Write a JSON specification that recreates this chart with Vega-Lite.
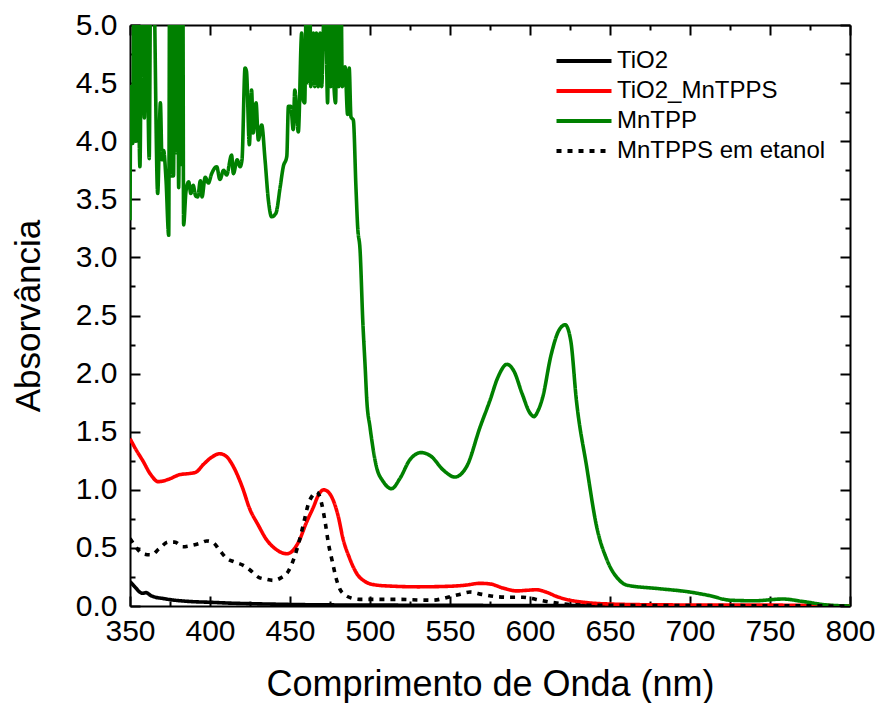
{
  "$schema": "https://vega.github.io/schema/vega-lite/v6.json",
  "autosize": "none",
  "width": 720,
  "height": 581,
  "padding": {"left": 130, "top": 25, "right": 27, "bottom": 97},
  "background": "white",
  "config": {"view": {"stroke": null}, "font": "Liberation Sans"},
  "datasets": {
    "spectra": [
      {"serie": "TiO2", "nm": 350, "abs": 0.21}, {"serie": "TiO2", "nm": 352, "abs": 0.18}, {"serie": "TiO2", "nm": 354, "abs": 0.15}, {"serie": "TiO2", "nm": 356, "abs": 0.12}, {"serie": "TiO2", "nm": 358, "abs": 0.11}, {"serie": "TiO2", "nm": 360, "abs": 0.115}, {"serie": "TiO2", "nm": 363, "abs": 0.09}, {"serie": "TiO2", "nm": 366, "abs": 0.075}, {"serie": "TiO2", "nm": 370, "abs": 0.066}, {"serie": "TiO2", "nm": 375, "abs": 0.055}, {"serie": "TiO2", "nm": 383, "abs": 0.043}, {"serie": "TiO2", "nm": 390, "abs": 0.037}, {"serie": "TiO2", "nm": 400, "abs": 0.032}, {"serie": "TiO2", "nm": 412, "abs": 0.025}, {"serie": "TiO2", "nm": 425, "abs": 0.02}, {"serie": "TiO2", "nm": 440, "abs": 0.016}, {"serie": "TiO2", "nm": 456, "abs": 0.012}, {"serie": "TiO2", "nm": 480, "abs": 0.009}, {"serie": "TiO2", "nm": 520, "abs": 0.007}, {"serie": "TiO2", "nm": 600, "abs": 0.004}, {"serie": "TiO2", "nm": 700, "abs": 0.002}, {"serie": "TiO2", "nm": 800, "abs": 0.0},

      {"serie": "TiO2_MnTPPS", "nm": 350, "abs": 1.44}, {"serie": "TiO2_MnTPPS", "nm": 354, "abs": 1.34}, {"serie": "TiO2_MnTPPS", "nm": 358, "abs": 1.25}, {"serie": "TiO2_MnTPPS", "nm": 363, "abs": 1.13}, {"serie": "TiO2_MnTPPS", "nm": 367.7, "abs": 1.07}, {"serie": "TiO2_MnTPPS", "nm": 374, "abs": 1.09}, {"serie": "TiO2_MnTPPS", "nm": 381, "abs": 1.13}, {"serie": "TiO2_MnTPPS", "nm": 387, "abs": 1.14}, {"serie": "TiO2_MnTPPS", "nm": 391, "abs": 1.15}, {"serie": "TiO2_MnTPPS", "nm": 396, "abs": 1.22}, {"serie": "TiO2_MnTPPS", "nm": 401, "abs": 1.28}, {"serie": "TiO2_MnTPPS", "nm": 406, "abs": 1.31}, {"serie": "TiO2_MnTPPS", "nm": 410, "abs": 1.29}, {"serie": "TiO2_MnTPPS", "nm": 414.6, "abs": 1.2}, {"serie": "TiO2_MnTPPS", "nm": 420, "abs": 1.03}, {"serie": "TiO2_MnTPPS", "nm": 425, "abs": 0.83}, {"serie": "TiO2_MnTPPS", "nm": 430, "abs": 0.7}, {"serie": "TiO2_MnTPPS", "nm": 435.4, "abs": 0.57}, {"serie": "TiO2_MnTPPS", "nm": 441, "abs": 0.49}, {"serie": "TiO2_MnTPPS", "nm": 448, "abs": 0.45}, {"serie": "TiO2_MnTPPS", "nm": 452, "abs": 0.48}, {"serie": "TiO2_MnTPPS", "nm": 456, "abs": 0.57}, {"serie": "TiO2_MnTPPS", "nm": 460, "abs": 0.71}, {"serie": "TiO2_MnTPPS", "nm": 464.6, "abs": 0.85}, {"serie": "TiO2_MnTPPS", "nm": 468, "abs": 0.96}, {"serie": "TiO2_MnTPPS", "nm": 471, "abs": 1.0}, {"serie": "TiO2_MnTPPS", "nm": 474, "abs": 0.98}, {"serie": "TiO2_MnTPPS", "nm": 477, "abs": 0.91}, {"serie": "TiO2_MnTPPS", "nm": 480, "abs": 0.78}, {"serie": "TiO2_MnTPPS", "nm": 483.3, "abs": 0.57}, {"serie": "TiO2_MnTPPS", "nm": 487, "abs": 0.42}, {"serie": "TiO2_MnTPPS", "nm": 491.7, "abs": 0.28}, {"serie": "TiO2_MnTPPS", "nm": 497, "abs": 0.21}, {"serie": "TiO2_MnTPPS", "nm": 504, "abs": 0.18}, {"serie": "TiO2_MnTPPS", "nm": 515, "abs": 0.17}, {"serie": "TiO2_MnTPPS", "nm": 530, "abs": 0.165}, {"serie": "TiO2_MnTPPS", "nm": 550, "abs": 0.17}, {"serie": "TiO2_MnTPPS", "nm": 560, "abs": 0.18}, {"serie": "TiO2_MnTPPS", "nm": 568.75, "abs": 0.195}, {"serie": "TiO2_MnTPPS", "nm": 575, "abs": 0.19}, {"serie": "TiO2_MnTPPS", "nm": 583, "abs": 0.155}, {"serie": "TiO2_MnTPPS", "nm": 591.7, "abs": 0.13}, {"serie": "TiO2_MnTPPS", "nm": 598, "abs": 0.135}, {"serie": "TiO2_MnTPPS", "nm": 604, "abs": 0.14}, {"serie": "TiO2_MnTPPS", "nm": 610, "abs": 0.12}, {"serie": "TiO2_MnTPPS", "nm": 617, "abs": 0.08}, {"serie": "TiO2_MnTPPS", "nm": 625, "abs": 0.05}, {"serie": "TiO2_MnTPPS", "nm": 635, "abs": 0.03}, {"serie": "TiO2_MnTPPS", "nm": 650, "abs": 0.017}, {"serie": "TiO2_MnTPPS", "nm": 680, "abs": 0.01}, {"serie": "TiO2_MnTPPS", "nm": 720, "abs": 0.008}, {"serie": "TiO2_MnTPPS", "nm": 760, "abs": 0.007}, {"serie": "TiO2_MnTPPS", "nm": 800, "abs": 0.0},

      {"serie": "MnTPP", "nm": 350, "abs": 3.32}, {"serie": "MnTPP", "nm": 350.6, "abs": 4.47}, {"serie": "MnTPP", "nm": 351.7, "abs": 3.98}, {"serie": "MnTPP", "nm": 352.5, "abs": 5.6}, {"serie": "MnTPP", "nm": 353.5, "abs": 4.0}, {"serie": "MnTPP", "nm": 354.3, "abs": 5.6}, {"serie": "MnTPP", "nm": 356.2, "abs": 3.78}, {"serie": "MnTPP", "nm": 357.5, "abs": 5.6}, {"serie": "MnTPP", "nm": 359, "abs": 4.2}, {"serie": "MnTPP", "nm": 360, "abs": 5.6}, {"serie": "MnTPP", "nm": 362, "abs": 3.85}, {"serie": "MnTPP", "nm": 363, "abs": 5.6}, {"serie": "MnTPP", "nm": 364.5, "abs": 5.6}, {"serie": "MnTPP", "nm": 367.3, "abs": 3.55}, {"serie": "MnTPP", "nm": 369, "abs": 4.33}, {"serie": "MnTPP", "nm": 370, "abs": 3.84}, {"serie": "MnTPP", "nm": 371, "abs": 3.92}, {"serie": "MnTPP", "nm": 372.5, "abs": 3.67}, {"serie": "MnTPP", "nm": 374.2, "abs": 3.19}, {"serie": "MnTPP", "nm": 374.8, "abs": 5.6}, {"serie": "MnTPP", "nm": 375.6, "abs": 3.7}, {"serie": "MnTPP", "nm": 376.4, "abs": 5.6}, {"serie": "MnTPP", "nm": 377.2, "abs": 3.7}, {"serie": "MnTPP", "nm": 378, "abs": 5.6}, {"serie": "MnTPP", "nm": 379, "abs": 3.9}, {"serie": "MnTPP", "nm": 379.8, "abs": 5.6}, {"serie": "MnTPP", "nm": 380.4, "abs": 3.6}, {"serie": "MnTPP", "nm": 381.5, "abs": 5.6}, {"serie": "MnTPP", "nm": 382.3, "abs": 3.8}, {"serie": "MnTPP", "nm": 383, "abs": 5.6}, {"serie": "MnTPP", "nm": 383.5, "abs": 3.28}, {"serie": "MnTPP", "nm": 385, "abs": 3.57}, {"serie": "MnTPP", "nm": 386.7, "abs": 3.65}, {"serie": "MnTPP", "nm": 388, "abs": 3.55}, {"serie": "MnTPP", "nm": 389.5, "abs": 3.62}, {"serie": "MnTPP", "nm": 391, "abs": 3.53}, {"serie": "MnTPP", "nm": 392.3, "abs": 3.52}, {"serie": "MnTPP", "nm": 394, "abs": 3.66}, {"serie": "MnTPP", "nm": 395, "abs": 3.52}, {"serie": "MnTPP", "nm": 397, "abs": 3.69}, {"serie": "MnTPP", "nm": 399, "abs": 3.64}, {"serie": "MnTPP", "nm": 401, "abs": 3.72}, {"serie": "MnTPP", "nm": 404.2, "abs": 3.78}, {"serie": "MnTPP", "nm": 406.2, "abs": 3.67}, {"serie": "MnTPP", "nm": 408.5, "abs": 3.75}, {"serie": "MnTPP", "nm": 410.4, "abs": 3.71}, {"serie": "MnTPP", "nm": 413.5, "abs": 3.88}, {"serie": "MnTPP", "nm": 414.6, "abs": 3.72}, {"serie": "MnTPP", "nm": 417, "abs": 3.84}, {"serie": "MnTPP", "nm": 418.8, "abs": 3.78}, {"serie": "MnTPP", "nm": 420, "abs": 3.84}, {"serie": "MnTPP", "nm": 421.9, "abs": 4.63}, {"serie": "MnTPP", "nm": 422.8, "abs": 4.6}, {"serie": "MnTPP", "nm": 424.6, "abs": 3.97}, {"serie": "MnTPP", "nm": 426, "abs": 4.44}, {"serie": "MnTPP", "nm": 427, "abs": 4.07}, {"serie": "MnTPP", "nm": 428.8, "abs": 4.33}, {"serie": "MnTPP", "nm": 430.2, "abs": 4.01}, {"serie": "MnTPP", "nm": 432.3, "abs": 4.14}, {"serie": "MnTPP", "nm": 434.4, "abs": 3.84}, {"serie": "MnTPP", "nm": 436.5, "abs": 3.49}, {"serie": "MnTPP", "nm": 438.5, "abs": 3.35}, {"serie": "MnTPP", "nm": 441.2, "abs": 3.38}, {"serie": "MnTPP", "nm": 443.8, "abs": 3.6}, {"serie": "MnTPP", "nm": 445.8, "abs": 3.78}, {"serie": "MnTPP", "nm": 448, "abs": 3.87}, {"serie": "MnTPP", "nm": 449, "abs": 4.3}, {"serie": "MnTPP", "nm": 450.5, "abs": 4.3}, {"serie": "MnTPP", "nm": 452, "abs": 4.1}, {"serie": "MnTPP", "nm": 453, "abs": 4.44}, {"serie": "MnTPP", "nm": 455.2, "abs": 4.08}, {"serie": "MnTPP", "nm": 457.3, "abs": 4.93}, {"serie": "MnTPP", "nm": 458.3, "abs": 4.35}, {"serie": "MnTPP", "nm": 459.2, "abs": 4.33}, {"serie": "MnTPP", "nm": 460.4, "abs": 5.6}, {"serie": "MnTPP", "nm": 461.5, "abs": 4.5}, {"serie": "MnTPP", "nm": 462.3, "abs": 5.6}, {"serie": "MnTPP", "nm": 463, "abs": 4.47}, {"serie": "MnTPP", "nm": 464.6, "abs": 4.93}, {"serie": "MnTPP", "nm": 465.5, "abs": 4.47}, {"serie": "MnTPP", "nm": 466.5, "abs": 4.93}, {"serie": "MnTPP", "nm": 467.7, "abs": 4.47}, {"serie": "MnTPP", "nm": 468.8, "abs": 4.93}, {"serie": "MnTPP", "nm": 469.8, "abs": 4.47}, {"serie": "MnTPP", "nm": 470.8, "abs": 4.93}, {"serie": "MnTPP", "nm": 471.8, "abs": 5.6}, {"serie": "MnTPP", "nm": 473.5, "abs": 4.33}, {"serie": "MnTPP", "nm": 474.5, "abs": 5.6}, {"serie": "MnTPP", "nm": 475.5, "abs": 4.47}, {"serie": "MnTPP", "nm": 476.5, "abs": 5.6}, {"serie": "MnTPP", "nm": 477.5, "abs": 4.47}, {"serie": "MnTPP", "nm": 478.5, "abs": 4.33}, {"serie": "MnTPP", "nm": 479.5, "abs": 5.6}, {"serie": "MnTPP", "nm": 480.5, "abs": 4.47}, {"serie": "MnTPP", "nm": 481.7, "abs": 5.6}, {"serie": "MnTPP", "nm": 482.7, "abs": 4.47}, {"serie": "MnTPP", "nm": 484.4, "abs": 4.64}, {"serie": "MnTPP", "nm": 486, "abs": 4.23}, {"serie": "MnTPP", "nm": 487, "abs": 4.63}, {"serie": "MnTPP", "nm": 488.1, "abs": 4.21}, {"serie": "MnTPP", "nm": 489.6, "abs": 4.18}, {"serie": "MnTPP", "nm": 491.2, "abs": 3.61}, {"serie": "MnTPP", "nm": 492.3, "abs": 3.26}, {"serie": "MnTPP", "nm": 493.8, "abs": 3.06}, {"serie": "MnTPP", "nm": 495.5, "abs": 2.45}, {"serie": "MnTPP", "nm": 497, "abs": 2.05}, {"serie": "MnTPP", "nm": 498, "abs": 1.77}, {"serie": "MnTPP", "nm": 500, "abs": 1.54}, {"serie": "MnTPP", "nm": 504, "abs": 1.2}, {"serie": "MnTPP", "nm": 508.3, "abs": 1.07}, {"serie": "MnTPP", "nm": 513.5, "abs": 1.01}, {"serie": "MnTPP", "nm": 518.8, "abs": 1.1}, {"serie": "MnTPP", "nm": 525, "abs": 1.26}, {"serie": "MnTPP", "nm": 532, "abs": 1.32}, {"serie": "MnTPP", "nm": 538, "abs": 1.29}, {"serie": "MnTPP", "nm": 545.8, "abs": 1.17}, {"serie": "MnTPP", "nm": 553, "abs": 1.11}, {"serie": "MnTPP", "nm": 560.4, "abs": 1.2}, {"serie": "MnTPP", "nm": 568.8, "abs": 1.54}, {"serie": "MnTPP", "nm": 575, "abs": 1.77}, {"serie": "MnTPP", "nm": 580, "abs": 1.97}, {"serie": "MnTPP", "nm": 585.6, "abs": 2.08}, {"serie": "MnTPP", "nm": 590, "abs": 2.02}, {"serie": "MnTPP", "nm": 595, "abs": 1.83}, {"serie": "MnTPP", "nm": 600, "abs": 1.66}, {"serie": "MnTPP", "nm": 602.5, "abs": 1.63}, {"serie": "MnTPP", "nm": 605, "abs": 1.68}, {"serie": "MnTPP", "nm": 608, "abs": 1.8}, {"serie": "MnTPP", "nm": 613, "abs": 2.15}, {"serie": "MnTPP", "nm": 618, "abs": 2.37}, {"serie": "MnTPP", "nm": 622, "abs": 2.42}, {"serie": "MnTPP", "nm": 625.5, "abs": 2.28}, {"serie": "MnTPP", "nm": 629, "abs": 1.77}, {"serie": "MnTPP", "nm": 635.4, "abs": 1.2}, {"serie": "MnTPP", "nm": 641.7, "abs": 0.68}, {"serie": "MnTPP", "nm": 648, "abs": 0.4}, {"serie": "MnTPP", "nm": 656, "abs": 0.22}, {"serie": "MnTPP", "nm": 660.4, "abs": 0.18}, {"serie": "MnTPP", "nm": 680, "abs": 0.15}, {"serie": "MnTPP", "nm": 700, "abs": 0.12}, {"serie": "MnTPP", "nm": 712, "abs": 0.09}, {"serie": "MnTPP", "nm": 725, "abs": 0.05}, {"serie": "MnTPP", "nm": 740, "abs": 0.045}, {"serie": "MnTPP", "nm": 758, "abs": 0.06}, {"serie": "MnTPP", "nm": 770, "abs": 0.04}, {"serie": "MnTPP", "nm": 785, "abs": 0.01}, {"serie": "MnTPP", "nm": 800, "abs": 0.0},

      {"serie": "MnTPPS em etanol", "nm": 350, "abs": 0.58}, {"serie": "MnTPPS em etanol", "nm": 352, "abs": 0.54}, {"serie": "MnTPPS em etanol", "nm": 358, "abs": 0.45}, {"serie": "MnTPPS em etanol", "nm": 363.5, "abs": 0.44}, {"serie": "MnTPPS em etanol", "nm": 368, "abs": 0.49}, {"serie": "MnTPPS em etanol", "nm": 374, "abs": 0.55}, {"serie": "MnTPPS em etanol", "nm": 378, "abs": 0.55}, {"serie": "MnTPPS em etanol", "nm": 383, "abs": 0.51}, {"serie": "MnTPPS em etanol", "nm": 388, "abs": 0.52}, {"serie": "MnTPPS em etanol", "nm": 393.8, "abs": 0.54}, {"serie": "MnTPPS em etanol", "nm": 398, "abs": 0.56}, {"serie": "MnTPPS em etanol", "nm": 402, "abs": 0.545}, {"serie": "MnTPPS em etanol", "nm": 406, "abs": 0.48}, {"serie": "MnTPPS em etanol", "nm": 410.4, "abs": 0.41}, {"serie": "MnTPPS em etanol", "nm": 415, "abs": 0.38}, {"serie": "MnTPPS em etanol", "nm": 420.8, "abs": 0.35}, {"serie": "MnTPPS em etanol", "nm": 425, "abs": 0.31}, {"serie": "MnTPPS em etanol", "nm": 430, "abs": 0.25}, {"serie": "MnTPPS em etanol", "nm": 435, "abs": 0.23}, {"serie": "MnTPPS em etanol", "nm": 439.6, "abs": 0.22}, {"serie": "MnTPPS em etanol", "nm": 444, "abs": 0.24}, {"serie": "MnTPPS em etanol", "nm": 449, "abs": 0.3}, {"serie": "MnTPPS em etanol", "nm": 453, "abs": 0.43}, {"serie": "MnTPPS em etanol", "nm": 456, "abs": 0.57}, {"serie": "MnTPPS em etanol", "nm": 459, "abs": 0.74}, {"serie": "MnTPPS em etanol", "nm": 461.5, "abs": 0.88}, {"serie": "MnTPPS em etanol", "nm": 464, "abs": 0.95}, {"serie": "MnTPPS em etanol", "nm": 466.7, "abs": 0.98}, {"serie": "MnTPPS em etanol", "nm": 468, "abs": 0.96}, {"serie": "MnTPPS em etanol", "nm": 469.8, "abs": 0.88}, {"serie": "MnTPPS em etanol", "nm": 472, "abs": 0.72}, {"serie": "MnTPPS em etanol", "nm": 474, "abs": 0.54}, {"serie": "MnTPPS em etanol", "nm": 476.5, "abs": 0.38}, {"serie": "MnTPPS em etanol", "nm": 478.8, "abs": 0.24}, {"serie": "MnTPPS em etanol", "nm": 481, "abs": 0.15}, {"serie": "MnTPPS em etanol", "nm": 484.4, "abs": 0.095}, {"serie": "MnTPPS em etanol", "nm": 488, "abs": 0.07}, {"serie": "MnTPPS em etanol", "nm": 493.8, "abs": 0.057}, {"serie": "MnTPPS em etanol", "nm": 505, "abs": 0.057}, {"serie": "MnTPPS em etanol", "nm": 519, "abs": 0.057}, {"serie": "MnTPPS em etanol", "nm": 530, "abs": 0.052}, {"serie": "MnTPPS em etanol", "nm": 539, "abs": 0.05}, {"serie": "MnTPPS em etanol", "nm": 550, "abs": 0.08}, {"serie": "MnTPPS em etanol", "nm": 556, "abs": 0.1}, {"serie": "MnTPPS em etanol", "nm": 562.5, "abs": 0.12}, {"serie": "MnTPPS em etanol", "nm": 570, "abs": 0.1}, {"serie": "MnTPPS em etanol", "nm": 579, "abs": 0.08}, {"serie": "MnTPPS em etanol", "nm": 588, "abs": 0.075}, {"serie": "MnTPPS em etanol", "nm": 595.6, "abs": 0.075}, {"serie": "MnTPPS em etanol", "nm": 601, "abs": 0.065}, {"serie": "MnTPPS em etanol", "nm": 606, "abs": 0.05}, {"serie": "MnTPPS em etanol", "nm": 612, "abs": 0.035}, {"serie": "MnTPPS em etanol", "nm": 616.7, "abs": 0.025}, {"serie": "MnTPPS em etanol", "nm": 625, "abs": 0.012}, {"serie": "MnTPPS em etanol", "nm": 640, "abs": 0.006}, {"serie": "MnTPPS em etanol", "nm": 700, "abs": 0.004}, {"serie": "MnTPPS em etanol", "nm": 800, "abs": 0.0}
    ]
  },
  "data": {"name": "spectra"},
  "layer": [
    {
      "mark": {"type": "line", "strokeWidth": 3.6, "clip": true, "interpolate": "monotone"},
      "encoding": {
        "x": {
          "field": "nm", "type": "quantitative",
          "scale": {"domain": [350, 800], "nice": false, "zero": false},
          "axis": {
            "orient": "bottom",
            "values": [350, 375, 400, 425, 450, 475, 500, 525, 550, 575, 600, 625, 650, 675, 700, 725, 750, 775, 800],
            "tickSize": -10,
            "tickDash": {"condition": {"test": "datum.value % 50 === 0", "value": [10, 0]}, "value": [5, 30]},
            "labelExpr": "datum.value % 50 === 0 ? datum.label : ''",
            "tickWidth": 2, "tickColor": "black", "domainWidth": 2, "domainColor": "black",
            "grid": false, "labelFont": "Liberation Sans", "labelFontSize": 30, "labelColor": "black",
            "labelPadding": 20, "labelFlush": false, "labelOverlap": false,
            "title": "Comprimento de Onda (nm)", "titleFont": "Liberation Sans", "titleFontSize": 36,
            "titleFontWeight": "normal", "titleColor": "black", "titlePadding": 21
          }
        },
        "y": {
          "field": "abs", "type": "quantitative",
          "scale": {"domain": [0, 5], "nice": false},
          "axis": {
            "orient": "left",
            "values": [0, 0.25, 0.5, 0.75, 1, 1.25, 1.5, 1.75, 2, 2.25, 2.5, 2.75, 3, 3.25, 3.5, 3.75, 4, 4.25, 4.5, 4.75, 5],
            "tickSize": -10,
            "tickDash": {"condition": {"test": "datum.value % 0.5 === 0", "value": [10, 0]}, "value": [5, 30]},
            "labelExpr": "datum.value % 0.5 === 0 ? format(datum.value, '.1f') : ''",
            "tickWidth": 2, "tickColor": "black", "domainWidth": 2, "domainColor": "black",
            "grid": false, "labelFont": "Liberation Sans", "labelFontSize": 30, "labelColor": "black",
            "labelPadding": 23, "labelFlush": false, "labelOverlap": false,
            "title": "Absorvância", "titleFont": "Liberation Sans", "titleFontSize": 35,
            "titleFontWeight": "normal", "titleColor": "black", "titlePadding": 29
          }
        },
        "color": {
          "field": "serie", "type": "nominal",
          "scale": {"domain": ["TiO2", "TiO2_MnTPPS", "MnTPP", "MnTPPS em etanol"], "range": ["#000000", "#ff0000", "#008000", "#000000"]},
          "legend": {
            "title": null, "orient": "none", "legendX": 441, "legendY": 23,
            "symbolType": "M-2.5,0H2.5", "symbolSize": 484, "symbolStrokeWidth": 4,
            "labelFont": "Liberation Sans", "labelFontSize": 24, "labelColor": "black", "labelLimit": 400,
            "labelOffset": 20, "rowPadding": 5, "padding": 0
          }
        },
        "strokeDash": {
          "field": "serie", "type": "nominal",
          "scale": {"domain": ["TiO2", "TiO2_MnTPPS", "MnTPP", "MnTPPS em etanol"], "range": [[1, 0], [1, 0], [1, 0], [5, 6]]},
          "legend": null
        },
        "order": {"field": "nm", "type": "quantitative"}
      }
    },
    {
      "mark": {"type": "line", "opacity": 0},
      "encoding": {
        "x": {
          "field": "nm", "type": "quantitative",
          "axis": {
            "orient": "top",
            "values": [350, 375, 400, 425, 450, 475, 500, 525, 550, 575, 600, 625, 650, 675, 700, 725, 750, 775, 800],
            "tickSize": -10,
            "tickDash": {"condition": {"test": "datum.value % 50 === 0", "value": [10, 0]}, "value": [5, 30]},
            "labels": false, "title": null, "grid": false,
            "tickWidth": 2, "tickColor": "black", "domainWidth": 2, "domainColor": "black"
          }
        },
        "y": {
          "field": "abs", "type": "quantitative",
          "axis": {
            "orient": "right",
            "values": [0, 0.25, 0.5, 0.75, 1, 1.25, 1.5, 1.75, 2, 2.25, 2.5, 2.75, 3, 3.25, 3.5, 3.75, 4, 4.25, 4.5, 4.75, 5],
            "tickSize": -10,
            "tickDash": {"condition": {"test": "datum.value % 0.5 === 0", "value": [10, 0]}, "value": [5, 30]},
            "labels": false, "title": null, "grid": false,
            "tickWidth": 2, "tickColor": "black", "domainWidth": 2, "domainColor": "black"
          }
        },
        "detail": {"field": "serie"}
      }
    }
  ],
  "resolve": {"axis": {"x": "independent", "y": "independent"}}
}
